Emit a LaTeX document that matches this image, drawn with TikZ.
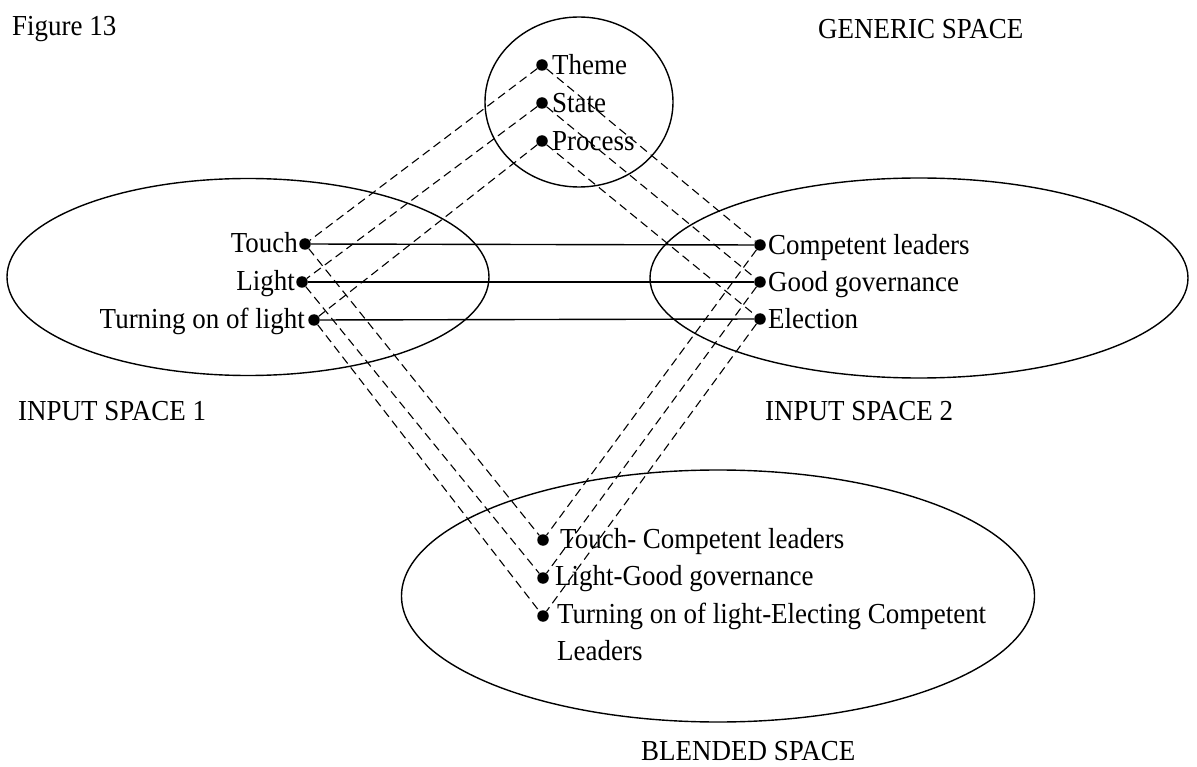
\documentclass[tikz,border=0pt]{standalone}
\usepackage{fontspec}
\setmainfont[FakeStretch=0.93]{Liberation Serif}
\usetikzlibrary{shapes.geometric,calc}

\begin{document}
\begin{tikzpicture}[
  x=1pt, y=-1pt,
  every node/.style={font=\fontsize{29}{37}\selectfont},
  space/.style={draw, ellipse, line width=1.4pt, inner sep=0pt},
  dot/.style={circle, fill, inner sep=0pt, minimum size=11.5pt},
  lbl/.style={inner sep=0pt},
  link/.style={line width=1.1pt, dash pattern=on 8.5pt off 5pt},
  pair/.style={line width=1.4pt},
]
\useasboundingbox (0,0) rectangle (1197,767);

% the four mental spaces
\node[space, minimum width=188pt, minimum height=170pt] (gen) at (579,102) {};
\node[space, minimum width=482pt, minimum height=197pt] (in1) at (248,277) {};
\node[space, minimum width=538pt, minimum height=200pt] (in2) at (919,278) {};
\node[space, minimum width=633pt, minimum height=252pt] (bl) at (718,596) {};

% elements of the generic space
\node[dot] (theme)   at (542,65)  {};
\node[dot] (state)   at (542,103) {};
\node[dot] (process) at (542,141) {};
% elements of input space 1
\node[dot] (touch) at (305,244) {};
\node[dot] (light) at (302,282) {};
\node[dot] (turn)  at (314,320) {};
% elements of input space 2
\node[dot] (lead) at (760,245) {};
\node[dot] (gov)  at (760,282) {};
\node[dot] (elec) at (760,319) {};
% elements of the blend
\node[dot] (b1) at (543,540) {};
\node[dot] (b2) at (543,578) {};
\node[dot] (b3) at (543,616) {};

% element labels
\node[lbl, anchor=base west] (ltheme)   at ($(theme)+(10,10)$)   {Theme};
\node[lbl, anchor=base west] (lstate)   at ($(state)+(10,10)$)   {State};
\node[lbl, anchor=base west] (lprocess) at ($(process)+(10,10)$) {Process};
\node[lbl, anchor=base east] (ltouch) at ($(touch)+(-7,9)$) {Touch};
\node[lbl, anchor=base east] (llight) at ($(light)+(-7,9)$) {Light};
\node[lbl, anchor=base east] (lturn)  at ($(turn)+(-9,9)$)  {Turning on of light};
\node[lbl, anchor=base west] (llead) at ($(lead)+(8,10)$) {Competent leaders};
\node[lbl, anchor=base west] (lgov)  at ($(gov)+(8,10)$)  {Good governance};
\node[lbl, anchor=base west] (lelec) at ($(elec)+(8,10)$) {Election};
\node[lbl, anchor=base west] (lb1) at ($(b1)+(17,8)$) {Touch- Competent leaders};
\node[lbl, anchor=base west] (lb2) at ($(b2)+(12,7)$) {Light-Good governance};
% two-line label: its base anchor sits on the second line
\node[lbl, anchor=base west, align=left] (lb3) at ($(b3)+(14,44)$)
  {Turning on of light-Electing Competent\\Leaders};

% space titles
\node[lbl, anchor=base west] (fig)  at (12,36)  {Figure 13};
\node[lbl, anchor=base west] (tgen) at (818,39) {GENERIC SPACE};
\node[lbl, anchor=base west] (tin1) at (18,420) {INPUT SPACE 1};
\node[lbl, anchor=base west] (tin2) at (765,420) {INPUT SPACE 2};
\node[lbl, anchor=base west] (tbl)  at (641,760) {BLENDED SPACE};

% cross-space mappings
\draw[pair] (touch) -- (lead);
\draw[pair] (light) -- (gov);
\draw[pair] (turn) -- (elec);

% projections from the generic space and into the blend
\draw[link] (theme) -- (touch);
\draw[link] (state) -- (light);
\draw[link] (process) -- (turn);
\draw[link] (theme) -- (lead);
\draw[link] (state) -- (gov);
\draw[link] (process) -- (elec);
\draw[link] (touch) -- (b1);
\draw[link] (light) -- (b2);
\draw[link] (turn) -- (b3);
\draw[link] (lead) -- (b1);
\draw[link] (gov) -- (b2);
\draw[link] (elec) -- (b3);
\end{tikzpicture}
\end{document}
